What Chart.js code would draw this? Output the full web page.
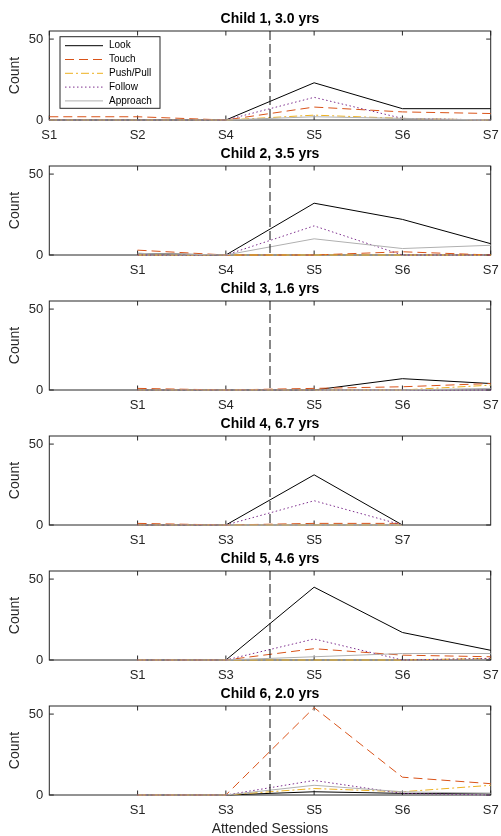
<!DOCTYPE html>
<html><head><meta charset="utf-8">
<script src="https://cdn.jsdelivr.net/npm/chart.js@4.4.1/dist/chart.umd.min.js"></script>
<style>
html,body{margin:0;padding:0;background:#fff;}
body{width:501px;height:836px;position:relative;overflow:hidden;}
.cw{position:absolute;left:0;width:501px;}
canvas{display:block;}
</style></head><body>
<script>
// ---------- data ----------
const behaviours = ['Look', 'Touch', 'Push/Pull', 'Follow', 'Approach'];
const childTitles = ['Child 1, 3.0 yrs', 'Child 2, 3.5 yrs', 'Child 3, 1.6 yrs',
                     'Child 4, 6.7 yrs', 'Child 5, 4.6 yrs', 'Child 6, 2.0 yrs'];
const sessionLabels = [
  ['S1', 'S2', 'S4', 'S5', 'S6', 'S7'],
  ['S1', 'S4', 'S5', 'S6', 'S7'],
  ['S1', 'S4', 'S5', 'S6', 'S7'],
  ['S1', 'S3', 'S5', 'S7'],
  ['S1', 'S3', 'S5', 'S6', 'S7'],
  ['S1', 'S3', 'S5', 'S6', 'S7']
];
const firstSlot = [1, 2, 2, 2, 2, 2];   // slot of each child's first attended session
const lookCounts = [
  [0, 0, 0, 23, 7, 7],
  [1, 0, 32, 22, 7],
  [0, 0, 0, 7, 4],
  [0, 0, 31, 0],
  [0, 0, 45, 17, 6],
  [0, 0, 2, 1, 1]
];
const touchCounts = [
  [2, 2, 0, 8, 5, 4],
  [3, 0, 0, 2, 0],
  [1, 0, 1, 2, 4],
  [1, 0, 1, 1],
  [0, 0, 7, 3, 2],
  [0, 0, 54, 11, 7]
];
const pushPullCounts = [
  [0, 0, 0, 3, 1, 0],
  [0, 0, 0, 0, 0],
  [0, 0, 0, 0, 3],
  [0, 0, 0, 0],
  [0, 0, 0, 0, 1],
  [0, 0, 4, 2, 6]
];
const followCounts = [
  [0, 0, 0, 14, 1, 0],
  [0, 0, 18, 0, 0],
  [0, 0, 0, 0, 0],
  [0, 0, 15, 0],
  [0, 0, 13, 0, 1],
  [0, 0, 9, 1, 0]
];
const approachCounts = [
  [0, 0, 0, 2, 1, 0],
  [1, 0, 10, 4, 6],
  [0, 0, 0, 0, 1],
  [0, 0, 0, 0],
  [0, 0, 2, 4, 4],
  [0, 0, 6, 2, 1]
];
const countTicks = [0, 50];
const countMax = 55;
const slotMin = 1, slotMax = 6;
const interventionBoundary = 3.5;   // dashed line between pre/post sessions

// ---------- styles ----------
const FONT = '"Liberation Sans", Arial, Helvetica, sans-serif';
Chart.defaults.font.family = FONT;
const seriesStyles = [
  { color: '#000000', dash: [] },
  { color: '#D95319', dash: [9, 5] },
  { color: '#EDB120', dash: [8, 3, 2, 3] },
  { color: '#7E2F8E', dash: [1.5, 2.5] },
  { color: '#B0B0B0', dash: [] }
];
const AXIS_COLOR = '#262626';
const allSeries = [lookCounts, touchCounts, pushPullCounts, followCounts, approachCounts];

// plugin: MATLAB-like box, inward ticks and the dashed boundary line
const boxPlugin = {
  id: 'matlabBox',
  beforeDatasetsDraw(chart) {
    const { ctx, chartArea: a, scales: { x, y } } = chart;
    ctx.save();
    ctx.strokeStyle = AXIS_COLOR;
    ctx.lineWidth = 1;
    ctx.strokeRect(a.left, a.top, a.right - a.left, a.bottom - a.top);
    const tl = 4.5;
    ctx.beginPath();
    x.ticks.forEach(t => {
      const px = x.getPixelForValue(t.value);
      ctx.moveTo(px, a.bottom); ctx.lineTo(px, a.bottom - tl);
      ctx.moveTo(px, a.top); ctx.lineTo(px, a.top + tl);
    });
    y.ticks.forEach(t => {
      const py = y.getPixelForValue(t.value);
      ctx.moveTo(a.left, py); ctx.lineTo(a.left + tl, py);
      ctx.moveTo(a.right, py); ctx.lineTo(a.right - tl, py);
    });
    ctx.stroke();
    ctx.restore();
  },
  afterDatasetsDraw(chart) {
    const { ctx, chartArea: a, scales: { x } } = chart;
    const px = x.getPixelForValue(interventionBoundary);
    ctx.save();
    ctx.strokeStyle = '#111111';
    ctx.lineWidth = 1;
    ctx.setLineDash([9, 4]);
    ctx.beginPath();
    ctx.moveTo(px, a.top); ctx.lineTo(px, a.bottom);
    ctx.stroke();
    ctx.restore();
  }
};

// plugin: legend box inside first axes
const legendPlugin = {
  id: 'matlabLegend',
  afterDraw(chart, args, opts) {
    if (!opts.show) return;
    const { ctx, chartArea: a } = chart;
    const bx = a.left + 10.7, by = a.top + 5.7, bw = 100, bh = 71.6;
    ctx.save();
    ctx.fillStyle = '#ffffff';
    ctx.fillRect(bx, by, bw, bh);
    ctx.strokeStyle = AXIS_COLOR;
    ctx.lineWidth = 1;
    ctx.strokeRect(bx, by, bw, bh);
    ctx.font = '10px ' + FONT;
    ctx.textBaseline = 'middle';
    ctx.textAlign = 'left';
    chart.data.datasets.forEach((ds, k) => {
      const ry = by + 9 + k * 13.8;
      ctx.strokeStyle = ds.borderColor;
      ctx.lineWidth = ds.borderWidth;
      ctx.setLineDash(ds.borderDash || []);
      ctx.beginPath();
      ctx.moveTo(bx + 5, ry); ctx.lineTo(bx + 43, ry);
      ctx.stroke();
      ctx.setLineDash([]);
      ctx.fillStyle = '#000000';
      ctx.fillText(ds.label, bx + 49, ry);
    });
    ctx.restore();
  }
};

const SPACING = 135;
for (let c = 0; c < 6; c++) {
  const isLast = c === 5;
  const H = isLast ? 161 : 150;
  const div = document.createElement('div');
  div.className = 'cw';
  div.style.top = (c * SPACING) + 'px';
  div.style.height = H + 'px';
  const cv = document.createElement('canvas');
  cv.width = 501; cv.height = H;
  cv.style.width = '501px'; cv.style.height = H + 'px';
  div.appendChild(cv);
  document.body.appendChild(div);

  const labels = sessionLabels[c];
  const slots = labels.map((_, i) => firstSlot[c] + i);

  const datasets = behaviours.map((name, k) => ({
    label: name,
    data: allSeries[k][c].map((v, i) => ({ x: slots[i], y: v })),
    borderColor: seriesStyles[k].color,
    borderDash: seriesStyles[k].dash,
    borderWidth: 1,
    pointRadius: 0,
    tension: 0,
    fill: false,
    clip: 4,
    order: behaviours.length - k
  }));

  new Chart(cv, {
    type: 'line',
    data: { datasets },
    plugins: [boxPlugin, legendPlugin],
    options: {
      responsive: false,
      animation: false,
      events: [],
      devicePixelRatio: 1,
      layout: { padding: { left: 0, right: 10.3, top: 0, bottom: 0 } },
      plugins: {
        legend: { display: false },
        tooltip: { enabled: false },
        matlabLegend: { show: c === 0 },
        title: {
          display: true, text: childTitles[c], fullSize: false, color: '#000000',
          font: { family: FONT, size: 14, weight: 'bold', lineHeight: 1.2 },
          padding: { top: 10.5, bottom: 3.7 }
        }
      },
      scales: {
        x: {
          type: 'linear', min: slotMin, max: slotMax,
          grid: { display: false, drawTicks: false },
          border: { display: false },
          afterBuildTicks: s => { s.ticks = slots.map(v => ({ value: v })); },
          ticks: {
            autoSkip: false, maxRotation: 0, minRotation: 0, padding: 8,
            color: AXIS_COLOR, font: { family: FONT, size: 13 },
            callback: v => { const i = slots.indexOf(v); return i >= 0 ? labels[i] : ''; }
          },
          afterFit: s => { s.height = H - 120; s.paddingLeft = 0; s.paddingRight = 0; },
          title: {
            display: isLast, text: 'Attended Sessions', color: AXIS_COLOR,
            font: { family: FONT, size: 14, lineHeight: 1 }, padding: { top: 0, bottom: 0 }
          }
        },
        y: {
          min: 0, max: countMax,
          grid: { display: false, drawTicks: false },
          border: { display: false },
          afterBuildTicks: s => { s.ticks = countTicks.map(v => ({ value: v })); },
          ticks: { padding: 6, color: AXIS_COLOR, font: { family: FONT, size: 13 } },
          afterFit: s => { s.width = 49.3; s.paddingTop = 0; s.paddingBottom = 0; },
          title: {
            display: true, text: 'Count', color: AXIS_COLOR,
            font: { family: FONT, size: 14, lineHeight: 1.2 }, padding: { top: 7, bottom: 0 }
          }
        }
      }
    }
  });
}
</script>
</body></html>
